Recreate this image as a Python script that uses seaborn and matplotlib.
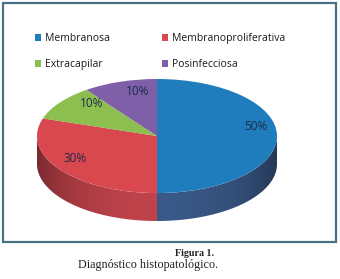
import numpy as np
import seaborn as sns
import matplotlib.pyplot as plt
from matplotlib.patches import Rectangle, Patch, Polygon
import matplotlib.colors as mcolors

# Chart data
categories = ['Membranosa', 'Membranoproliferativa', 'Extracapilar', 'Posinfecciosa']
values = [50, 30, 10, 10]
top_colors = ['#1f7dbd', '#d9474f', '#8cbf50', '#7f5fa8']
side_colors = ['#3a5988', '#c0434b', '#6f9a3c', '#5f4585']
caption_title = 'Figura 1.'
caption_text = 'Diagnóstico histopatológico.'

# small nudges of the % labels (3D perspective look)
label_nudge = [(0.04, 0.16), (-0.05, 0.06), (0.09, 0.12), (0.08, 0.04)]

sns.set_theme(style='white')
plt.rcParams['font.family'] = ['Open Sans', 'DejaVu Sans']

W, H = 340, 279
fig = plt.figure(figsize=(W / 100, H / 100), dpi=100)

# background axes in pixel coordinates for frame and caption
bg = fig.add_axes([0, 0, 1, 1])
bg.set_xlim(0, W)
bg.set_ylim(H, 0)
bg.axis('off')
bg.add_patch(Rectangle((2.5, 2.5), 333, 239.5, fill=False, edgecolor='#4a7086', lw=1.6))
bg.text(214, 253, caption_title, ha='right', va='center', fontsize=7.2, fontweight='bold',
        family=['Liberation Serif'], color='#222222')
bg.text(218, 265, caption_text, ha='right', va='center', fontsize=8.7,
        family=['Liberation Serif'], color='#222222')

# pie axes (top ellipse + side depth)
depth = 0.49
px_left, px_top, px_w, px_h = 37, 79, 240, 142
ax = fig.add_axes([px_left / W, 1 - (px_top + px_h) / H, px_w / W, px_h / H])

# side of the 3D pie (front half only), shaded with a horizontal gradient
fracs = np.array(values) / np.sum(values)
ends = 90 - 360 * np.cumsum(fracs)
starts = np.concatenate([[90], ends[:-1]])
gx = np.linspace(-1, 1, 400)
shade = 0.62 + 0.38 * (1 - gx ** 2) ** 0.75
for i, (a0, a1) in enumerate(zip(starts, ends)):
    lo, hi = max(a1, -180), min(a0, 0)
    if lo >= hi:
        continue
    base = np.array(mcolors.to_rgb(side_colors[i]))
    t = np.radians(np.linspace(lo, hi, 200))
    pts = np.concatenate([np.column_stack([np.cos(t), np.sin(t)]),
                          np.column_stack([np.cos(t[::-1]), np.sin(t[::-1]) - depth])])
    poly = Polygon(pts, closed=True, facecolor='none', edgecolor='none')
    ax.add_patch(poly)
    img = np.clip(shade[None, :, None] * base[None, None, :], 0, 1)
    im = ax.imshow(img, extent=(-1, 1, -1 - depth, 0.1), aspect='auto',
                   interpolation='bilinear', zorder=1)
    im.set_clip_path(poly)

wedges, _, autotexts = ax.pie(values, colors=top_colors, startangle=90, counterclock=False,
                              autopct='%1.0f%%', pctdistance=0.78,
                              wedgeprops=dict(linewidth=0),
                              textprops=dict(fontsize=8.5, color='#1c2b48'))
for w in wedges:
    w.set_zorder(2)
for t, (dx, dy) in zip(autotexts, label_nudge):
    x, y = t.get_position()
    t.set_position((x + dx, y + dy))
    t.set_zorder(3)
ax.set_aspect('auto')
ax.set_xlim(-1, 1)
ax.set_ylim(-1 - depth, 1)
ax.axis('off')

# legend: two rows, two columns
handles = [Patch(facecolor=c, edgecolor='none') for c in top_colors]
order = [0, 2, 1, 3]
fig.legend([handles[i] for i in order], [categories[i] for i in order], ncol=2,
           loc='upper left', bbox_to_anchor=(35 / W, 1 - 33 / H), frameon=False,
           fontsize=7.5, handlelength=0.6, handleheight=0.6, handletextpad=0.35,
           columnspacing=5.0, labelspacing=1.45, borderpad=0, borderaxespad=0,
           labelcolor='#1a1a1a')

fig.savefig('out.png', dpi=100, facecolor='white')
